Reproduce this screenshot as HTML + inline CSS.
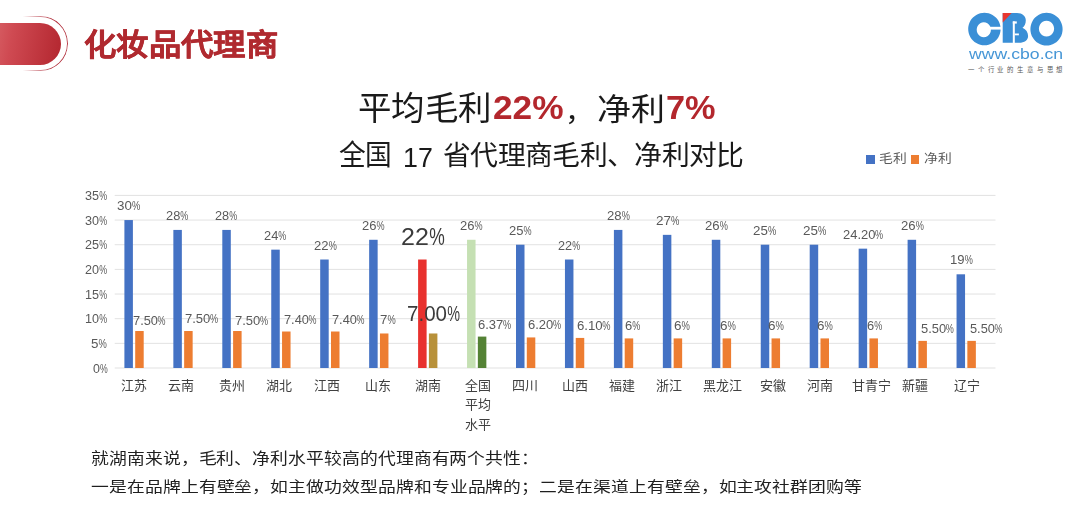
<!DOCTYPE html>
<html lang="zh-CN"><head><meta charset="utf-8">
<style>
html,body{margin:0;padding:0;}
body{width:1080px;height:519px;overflow:hidden;background:#fff;position:relative;font-family:"Liberation Sans",sans-serif;}
.abs{position:absolute;}
.t{position:absolute;white-space:nowrap;line-height:1.2;transform-origin:0 0;}
i{font-style:normal;display:inline-block;transform:scaleX(.7);transform-origin:0 50%;margin-right:-0.267em;}
.pill{position:absolute;left:-30px;top:22.8px;width:90.7px;height:42.5px;border-radius:0 21.25px 21.25px 0;
 background:linear-gradient(100deg,#e27a7c 0%,#cf4a52 45%,#b3262f 100%);}
.ring{position:absolute;left:-40px;top:16.1px;width:107.5px;height:54.6px;box-sizing:border-box;border-radius:0 27.3px 27.3px 0;
 border:1.6px solid #b8404c;border-left:none;
 -webkit-mask-image:linear-gradient(90deg,transparent 0%,transparent 58%,#000 85%);}
.sq{position:absolute;}
</style></head><body>
<div class="ring"></div>
<div class="pill"></div>

<svg class="abs" style="left:0;top:0" width="1080" height="90" viewBox="0 0 1080 90">
 <g fill="#3a8fd6">
  <path fill-rule="evenodd" d="M984.4 12.7 a16.2 16.3 0 1 0 0.01 0z M983.8 22.2 a7.1 7.55 0 1 0 0.01 0z"/>
  <path d="M1002.7 13 H1017 C1022.5 13 1025.8 16.3 1025.8 20.3 C1025.8 23.8 1024.5 26.3 1022.5 27.8 C1026 29.3 1028.1 32.5 1028.1 36 C1028.1 40 1024.5 42.8 1019 42.8 H1002.7 Z"/>
  <path fill-rule="evenodd" d="M1046.5 12.8 a16.1 16.35 0 1 0 0.01 0z M1046.5 20.7 a7.6 7.9 0 1 0 0.01 0z"/>
 </g>
 <rect x="984" y="26.8" width="17" height="2.8" fill="#fff"/>
 <path d="M1002.7 13 H1011.6 L1002.7 22.6z" fill="#e8362f"/>
 <g fill="#fff"><rect x="1012.8" y="21.4" width="2" height="21.6"/><rect x="1012.8" y="21.4" width="4" height="2.2"/><rect x="1014.6" y="33.5" width="4.3" height="1.8"/></g>
</svg>
<div class="abs" style="left:968px;top:65.7px;font-size:6.4px;line-height:8px;color:#555;font-weight:500;letter-spacing:3.82px;white-space:nowrap;">一个行业的生意与思想</div>

<div class="sq" style="left:866.3px;top:155.4px;width:8.5px;height:8.6px;background:#4472c4"></div>
<div class="sq" style="left:910.9px;top:155.4px;width:8.4px;height:8.6px;background:#ed7d31"></div>

<svg class="abs" style="left:0;top:0" width="1080" height="519" viewBox="0 0 1080 519">
<rect x="114.7" y="367.50" width="880.8" height="1" fill="#e2e2e2"/>
<rect x="114.7" y="342.84" width="880.8" height="1" fill="#e2e2e2"/>
<rect x="114.7" y="318.19" width="880.8" height="1" fill="#e2e2e2"/>
<rect x="114.7" y="293.53" width="880.8" height="1" fill="#e2e2e2"/>
<rect x="114.7" y="268.87" width="880.8" height="1" fill="#e2e2e2"/>
<rect x="114.7" y="244.21" width="880.8" height="1" fill="#e2e2e2"/>
<rect x="114.7" y="219.56" width="880.8" height="1" fill="#e2e2e2"/>
<rect x="114.7" y="194.90" width="880.8" height="1" fill="#e2e2e2"/>
<rect x="124.40" y="220.06" width="8.5" height="147.94" fill="#4472c4"/>
<rect x="135.20" y="331.01" width="8.5" height="36.99" fill="#ed7d31"/>
<rect x="173.35" y="229.92" width="8.5" height="138.08" fill="#4472c4"/>
<rect x="184.15" y="331.01" width="8.5" height="36.99" fill="#ed7d31"/>
<rect x="222.30" y="229.92" width="8.5" height="138.08" fill="#4472c4"/>
<rect x="233.10" y="331.01" width="8.5" height="36.99" fill="#ed7d31"/>
<rect x="271.25" y="249.65" width="8.5" height="118.35" fill="#4472c4"/>
<rect x="282.05" y="331.51" width="8.5" height="36.49" fill="#ed7d31"/>
<rect x="320.20" y="259.51" width="8.5" height="108.49" fill="#4472c4"/>
<rect x="331.00" y="331.51" width="8.5" height="36.49" fill="#ed7d31"/>
<rect x="369.15" y="239.78" width="8.5" height="128.22" fill="#4472c4"/>
<rect x="379.95" y="333.48" width="8.5" height="34.52" fill="#ed7d31"/>
<rect x="418.10" y="259.51" width="8.5" height="108.49" fill="#e8312e"/>
<rect x="428.90" y="333.48" width="8.5" height="34.52" fill="#b8913a"/>
<rect x="467.05" y="239.78" width="8.5" height="128.22" fill="#c5e0b3"/>
<rect x="477.85" y="336.59" width="8.5" height="31.41" fill="#548235"/>
<rect x="516.00" y="244.71" width="8.5" height="123.29" fill="#4472c4"/>
<rect x="526.80" y="337.43" width="8.5" height="30.57" fill="#ed7d31"/>
<rect x="564.95" y="259.51" width="8.5" height="108.49" fill="#4472c4"/>
<rect x="575.75" y="337.92" width="8.5" height="30.08" fill="#ed7d31"/>
<rect x="613.90" y="229.92" width="8.5" height="138.08" fill="#4472c4"/>
<rect x="624.70" y="338.41" width="8.5" height="29.59" fill="#ed7d31"/>
<rect x="662.85" y="234.85" width="8.5" height="133.15" fill="#4472c4"/>
<rect x="673.65" y="338.41" width="8.5" height="29.59" fill="#ed7d31"/>
<rect x="711.80" y="239.78" width="8.5" height="128.22" fill="#4472c4"/>
<rect x="722.60" y="338.41" width="8.5" height="29.59" fill="#ed7d31"/>
<rect x="760.75" y="244.71" width="8.5" height="123.29" fill="#4472c4"/>
<rect x="771.55" y="338.41" width="8.5" height="29.59" fill="#ed7d31"/>
<rect x="809.70" y="244.71" width="8.5" height="123.29" fill="#4472c4"/>
<rect x="820.50" y="338.41" width="8.5" height="29.59" fill="#ed7d31"/>
<rect x="858.65" y="248.66" width="8.5" height="119.34" fill="#4472c4"/>
<rect x="869.45" y="338.41" width="8.5" height="29.59" fill="#ed7d31"/>
<rect x="907.60" y="239.78" width="8.5" height="128.22" fill="#4472c4"/>
<rect x="918.40" y="340.88" width="8.5" height="27.12" fill="#ed7d31"/>
<rect x="956.55" y="274.30" width="8.5" height="93.70" fill="#4472c4"/>
<rect x="967.35" y="340.88" width="8.5" height="27.12" fill="#ed7d31"/>
</svg>
<div class="t" style="left:84.30px;top:27.43px;color:#b02a30;font-size:32px;font-weight:bold;-webkit-text-stroke:0.5px #b02a30;transform:scale(1.0105,0.9375);">化妆品代理商</div>
<div class="t" style="left:358.17px;top:89.38px;color:#1a1a1a;font-size:33px;transform:scale(1.0142,1.0065);">平均毛利</div>
<div class="t" lang="en" style="left:492.73px;top:87.46px;color:#b3272d;font-size:33px;font-weight:bold;transform:scale(1.0688,1.0304);">22%</div>
<div class="t" style="left:565.27px;top:94.93px;color:#1a1a1a;font-size:33px;transform:scale(0.8667,0.8250);">，</div>
<div class="t" style="left:597.24px;top:91.06px;color:#1a1a1a;font-size:33px;transform:scale(1.0311,0.9452);">净利</div>
<div class="t" lang="en" style="left:665.96px;top:88.00px;color:#b3272d;font-size:33px;font-weight:bold;transform:scale(1.0391,1.0130);">7%</div>
<div class="t" style="left:338.73px;top:137.93px;color:#1a1a1a;font-size:27.5px;transform:scale(0.9725,1.0231);">全国</div>
<div class="t" lang="en" style="left:402.95px;top:139.55px;color:#1a1a1a;font-size:27.5px;transform:scale(0.9741,1.0211);">17</div>
<div class="t" style="left:442.59px;top:139.03px;color:#1a1a1a;font-size:27.5px;transform:scale(1.0125,0.9852);">省代理商毛利、净利对比</div>
<div class="t" style="left:878.84px;top:151.98px;color:#595959;font-size:13px;transform:scale(1.0625,0.9231);">毛利</div>
<div class="t" style="left:923.74px;top:151.98px;color:#595959;font-size:13px;transform:scale(1.0625,0.9231);">净利</div>
<div class="t" style="left:90.60px;top:449.60px;color:#1f1f1f;font-size:17.9px;font-weight:500;transform:scale(0.9957,0.8667);">就湖南来说，毛利、净利水平较高的代理商有两个共性：</div>
<div class="t" style="left:90.60px;top:478.30px;color:#1f1f1f;font-size:17.9px;font-weight:500;transform:scale(0.9961,0.8474);">一是在品牌上有壁垒，如主做功效型品牌和专业品牌的；二是在渠道上有壁垒，如主攻社群团购等</div>
<div class="t" lang="en" style="left:117.23px;top:199.10px;color:#595959;font-size:12.5px;transform:scale(1.0700,0.9778);">30<i>%</i></div>
<div class="t" lang="en" style="left:166.47px;top:208.96px;color:#595959;font-size:12.5px;transform:scale(1.0250,0.9778);">28<i>%</i></div>
<div class="t" lang="en" style="left:215.28px;top:208.96px;color:#595959;font-size:12.5px;transform:scale(1.0200,0.9778);">28<i>%</i></div>
<div class="t" lang="en" style="left:264.28px;top:228.69px;color:#595959;font-size:12.5px;transform:scale(1.0250,0.9778);">24<i>%</i></div>
<div class="t" lang="en" style="left:313.56px;top:238.55px;color:#595959;font-size:12.5px;transform:scale(1.0450,0.9778);">22<i>%</i></div>
<div class="t" lang="en" style="left:362.06px;top:218.83px;color:#595959;font-size:12.5px;transform:scale(1.0400,0.9778);">26<i>%</i></div>
<div class="t" lang="en" style="left:459.86px;top:218.83px;color:#595959;font-size:12.5px;transform:scale(1.0400,0.9778);">26<i>%</i></div>
<div class="t" lang="en" style="left:509.36px;top:223.76px;color:#595959;font-size:12.5px;transform:scale(1.0400,0.9778);">25<i>%</i></div>
<div class="t" lang="en" style="left:558.49px;top:238.55px;color:#595959;font-size:12.5px;transform:scale(1.0150,0.9778);">22<i>%</i></div>
<div class="t" lang="en" style="left:607.05px;top:208.96px;color:#595959;font-size:12.5px;transform:scale(1.0500,0.9778);">28<i>%</i></div>
<div class="t" lang="en" style="left:655.52px;top:213.90px;color:#595959;font-size:12.5px;transform:scale(1.0800,0.9778);">27<i>%</i></div>
<div class="t" lang="en" style="left:704.65px;top:218.83px;color:#595959;font-size:12.5px;transform:scale(1.0500,0.9778);">26<i>%</i></div>
<div class="t" lang="en" style="left:753.43px;top:223.76px;color:#595959;font-size:12.5px;transform:scale(1.0650,0.9778);">25<i>%</i></div>
<div class="t" lang="en" style="left:802.52px;top:223.76px;color:#595959;font-size:12.5px;transform:scale(1.0750,0.9778);">25<i>%</i></div>
<div class="t" lang="en" style="left:843.06px;top:227.70px;color:#595959;font-size:12.5px;transform:scale(1.0351,0.9778);">24.20<i>%</i></div>
<div class="t" lang="en" style="left:900.85px;top:218.83px;color:#595959;font-size:12.5px;transform:scale(1.0500,0.9778);">26<i>%</i></div>
<div class="t" lang="en" style="left:949.75px;top:253.35px;color:#595959;font-size:12.5px;transform:scale(1.0450,0.9778);">19<i>%</i></div>
<div class="t" lang="en" style="left:400.71px;top:224.00px;color:#3b3b3b;font-size:23px;transform:scale(1.0872,1.0000);">22<i>%</i></div>
<div class="t" lang="en" style="left:407.11px;top:301.12px;color:#3b3b3b;font-size:23px;transform:scale(0.8931,0.9706);">7.00<i>%</i></div>
<div class="t" lang="en" style="left:133.22px;top:314.24px;color:#595959;font-size:12.5px;transform:scale(1.0250,0.9778);">7.50<i>%</i></div>
<div class="t" lang="en" style="left:184.71px;top:312.24px;color:#595959;font-size:12.5px;transform:scale(1.0417,0.9778);">7.50<i>%</i></div>
<div class="t" lang="en" style="left:234.71px;top:313.74px;color:#595959;font-size:12.5px;transform:scale(1.0417,0.9778);">7.50<i>%</i></div>
<div class="t" lang="en" style="left:283.68px;top:312.54px;color:#595959;font-size:12.5px;transform:scale(1.0233,0.9778);">7.40<i>%</i></div>
<div class="t" lang="en" style="left:331.58px;top:312.54px;color:#595959;font-size:12.5px;transform:scale(1.0233,0.9778);">7.40<i>%</i></div>
<div class="t" lang="en" style="left:379.64px;top:313.14px;color:#595959;font-size:12.5px;transform:scale(1.0615,0.9778);">7<i>%</i></div>
<div class="t" lang="en" style="left:477.86px;top:317.64px;color:#595959;font-size:12.5px;transform:scale(1.0400,0.9778);">6.37<i>%</i></div>
<div class="t" lang="en" style="left:527.56px;top:318.34px;color:#595959;font-size:12.5px;transform:scale(1.0400,0.9778);">6.20<i>%</i></div>
<div class="t" lang="en" style="left:576.94px;top:318.94px;color:#595959;font-size:12.5px;transform:scale(1.0567,0.9778);">6.10<i>%</i></div>
<div class="t" lang="en" style="left:624.56px;top:318.64px;color:#595959;font-size:12.5px;transform:scale(1.0385,0.9778);">6<i>%</i></div>
<div class="t" lang="en" style="left:673.92px;top:318.64px;color:#595959;font-size:12.5px;transform:scale(1.0769,0.9778);">6<i>%</i></div>
<div class="t" lang="en" style="left:720.22px;top:318.64px;color:#595959;font-size:12.5px;transform:scale(1.0769,0.9778);">6<i>%</i></div>
<div class="t" lang="en" style="left:768.22px;top:318.64px;color:#595959;font-size:12.5px;transform:scale(1.0769,0.9778);">6<i>%</i></div>
<div class="t" lang="en" style="left:817.13px;top:319.14px;color:#595959;font-size:12.5px;transform:scale(1.0692,0.9778);">6<i>%</i></div>
<div class="t" lang="en" style="left:866.57px;top:319.14px;color:#595959;font-size:12.5px;transform:scale(1.0308,0.9778);">6<i>%</i></div>
<div class="t" lang="en" style="left:920.97px;top:321.84px;color:#595959;font-size:12.5px;transform:scale(1.0333,0.9778);">5.50<i>%</i></div>
<div class="t" lang="en" style="left:969.88px;top:321.84px;color:#595959;font-size:12.5px;transform:scale(1.0233,0.9778);">5.50<i>%</i></div>
<div class="t" lang="en" style="left:92.50px;top:361.50px;color:#595959;font-size:12.5px;transform:scale(0.9929,1.0000);">0<i>%</i></div>
<div class="t" lang="en" style="left:91.43px;top:336.84px;color:#595959;font-size:12.5px;transform:scale(1.0692,1.0000);">5<i>%</i></div>
<div class="t" lang="en" style="left:85.19px;top:312.19px;color:#595959;font-size:12.5px;transform:scale(1.0100,1.0000);">10<i>%</i></div>
<div class="t" lang="en" style="left:85.19px;top:287.53px;color:#595959;font-size:12.5px;transform:scale(1.0100,1.0000);">15<i>%</i></div>
<div class="t" lang="en" style="left:85.19px;top:262.87px;color:#595959;font-size:12.5px;transform:scale(1.0100,1.0000);">20<i>%</i></div>
<div class="t" lang="en" style="left:85.19px;top:238.21px;color:#595959;font-size:12.5px;transform:scale(1.0100,1.0000);">25<i>%</i></div>
<div class="t" lang="en" style="left:85.19px;top:213.56px;color:#595959;font-size:12.5px;transform:scale(1.0100,1.0000);">30<i>%</i></div>
<div class="t" lang="en" style="left:85.19px;top:188.90px;color:#595959;font-size:12.5px;transform:scale(1.0100,1.0000);">35<i>%</i></div>
<div class="t" style="left:121.00px;top:378.00px;color:#404040;font-size:13px;font-weight:500;transform:translateZ(0);">江苏</div>
<div class="t" style="left:167.60px;top:378.00px;color:#404040;font-size:13px;font-weight:500;transform:translateZ(0);">云南</div>
<div class="t" style="left:219.00px;top:378.00px;color:#404040;font-size:13px;font-weight:500;transform:translateZ(0);">贵州</div>
<div class="t" style="left:266.00px;top:378.00px;color:#404040;font-size:13px;font-weight:500;transform:translateZ(0);">湖北</div>
<div class="t" style="left:313.50px;top:378.00px;color:#404040;font-size:13px;font-weight:500;transform:translateZ(0);">江西</div>
<div class="t" style="left:364.50px;top:378.00px;color:#404040;font-size:13px;font-weight:500;transform:translateZ(0);">山东</div>
<div class="t" style="left:415.25px;top:378.00px;color:#404040;font-size:13px;font-weight:500;transform:translateZ(0);">湖南</div>
<div class="t" style="left:464.50px;top:378.00px;color:#404040;font-size:13px;font-weight:500;transform:translateZ(0);">全国</div>
<div class="t" style="left:511.50px;top:378.00px;color:#404040;font-size:13px;font-weight:500;transform:translateZ(0);">四川</div>
<div class="t" style="left:562.00px;top:378.00px;color:#404040;font-size:13px;font-weight:500;transform:translateZ(0);">山西</div>
<div class="t" style="left:609.00px;top:378.00px;color:#404040;font-size:13px;font-weight:500;transform:translateZ(0);">福建</div>
<div class="t" style="left:656.00px;top:378.00px;color:#404040;font-size:13px;font-weight:500;transform:translateZ(0);">浙江</div>
<div class="t" style="left:703.25px;top:378.00px;color:#404040;font-size:13px;font-weight:500;transform:translateZ(0);">黑龙江</div>
<div class="t" style="left:759.50px;top:378.00px;color:#404040;font-size:13px;font-weight:500;transform:translateZ(0);">安徽</div>
<div class="t" style="left:806.50px;top:378.00px;color:#404040;font-size:13px;font-weight:500;transform:translateZ(0);">河南</div>
<div class="t" style="left:851.50px;top:378.00px;color:#404040;font-size:13px;font-weight:500;transform:translateZ(0);">甘青宁</div>
<div class="t" style="left:902.00px;top:378.00px;color:#404040;font-size:13px;font-weight:500;transform:translateZ(0);">新疆</div>
<div class="t" style="left:954.10px;top:378.00px;color:#404040;font-size:13px;font-weight:500;transform:translateZ(0);">辽宁</div>
<div class="t" style="left:464.50px;top:396.90px;color:#404040;font-size:13px;font-weight:500;transform:translateZ(0);">平均</div>
<div class="t" style="left:464.50px;top:416.60px;color:#404040;font-size:13px;font-weight:500;transform:translateZ(0);">水平</div>
<div class="t" lang="en" style="left:968.70px;top:45.40px;color:#4696d6;font-size:14px;transform:scale(1.2608,1.1000);">www.cbo.cn</div>
</body></html>
